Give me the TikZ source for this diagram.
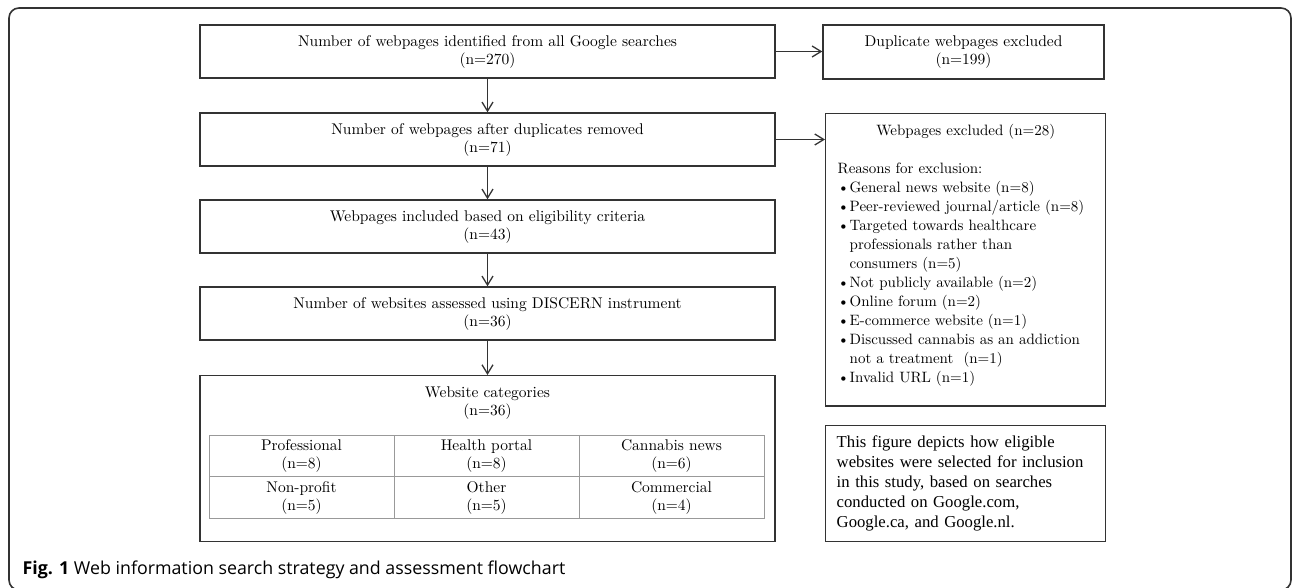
\documentclass[tikz,border=0pt]{standalone}
\usepackage{fontspec}
\usepackage{tikz}
\usetikzlibrary{arrows.meta}

\setmainfont{lmroman10-regular.otf}[BoldFont=lmroman10-bold.otf]
\newfontfamily\notefont{Liberation Serif}
\newfontfamily\capfont{Open Sans}
\definecolor{ink}{HTML}{333333}
\newcommand{\bul}{\makebox[12pt][l]{\textbullet}}
\newcommand{\ind}{\hspace*{12pt}}

\begin{document}
\begin{tikzpicture}
        [x=1pt,y=-1pt,line width=1.3pt,draw=ink,>={Straight Barb[length=9pt,width=11pt]},
         box/.style={rectangle,draw=ink,line width=1.4pt,minimum width=575pt,minimum height=53pt,
                     text width=560pt,align=center,inner sep=0pt,font=\fontsize{15.5}{18}\selectfont},
         side/.style={rectangle,draw=ink,line width=1.4pt,anchor=north west,align=left,
                      font=\fontsize{15}{19}\selectfont},
         cell/.style={rectangle,draw=gray!80,line width=0.9pt,minimum width=185pt,minimum height=41.5pt,
                      text width=180pt,align=center,inner sep=0pt,outer sep=0pt,font=\fontsize{15.5}{18}\selectfont}]
        \useasboundingbox (0,0) rectangle (1292,588);
        \draw[ink,line width=1.6pt,rounded corners=10pt] (9,8) rectangle (1291,590);

        \node[box] (1) at (487.5,51.5) {\strut Number of webpages identified from all Google searches\\(n=270)\strut};
        \node[box] (2) at (487.5,139.5) {\strut Number of webpages after duplicates removed\\(n=71)\strut};
        \node[box] (3) at (487.5,226.5) {\strut Webpages included based on eligibility criteria\\(n=43)\strut};
        \node[box] (4) at (487.5,313.5) {\strut Number of websites assessed using DISCERN instrument\\(n=36)\strut};
        \node[box,anchor=north,inner ysep=9pt,text depth=135pt] (5) at (487.5,375) {\strut Website categories\\(n=36)};

        \node[cell] (5a) at (301.5,456) {\strut Professional\\(n=8)\strut};
        \node[cell] (5b) at (486.5,456) {\strut Health portal\\(n=8)\strut};
        \node[cell] (5c) at (671.5,456) {\strut Cannabis news\\(n=6)\strut};
        \node[cell] (5d) at (301.5,497.5) {\strut Non-profit\\(n=5)\strut};
        \node[cell] (5e) at (486.5,497.5) {\strut Other\\(n=5)\strut};
        \node[cell] (5f) at (671.5,497.5) {\strut Commercial\\(n=4)\strut};

        \node[box,minimum width=281pt,minimum height=54pt,text width=270pt] (6) at (963.5,52) {\strut Duplicate webpages excluded\\(n=199)\strut};
        \node[side,text width=256pt,inner xsep=12pt,inner ysep=9pt,text depth=261pt] (7) at (825,113) {%
          \centerline{\strut Webpages excluded (n=28)}\vspace{19pt}
          Reasons for exclusion:\\
          \bul General news website (n=8)\\
          \bul Peer-reviewed journal/article (n=8)\\
          \bul Targeted towards healthcare\\
          \ind professionals rather than\\
          \ind consumers (n=5)\\
          \bul Not publicly available (n=2)\\
          \bul Online forum (n=2)\\
          \bul E-commerce website (n=1)\\
          \bul Discussed cannabis as an addiction\\
          \ind not a treatment\ \ (n=1)\\
          \bul Invalid URL (n=1)};
        \node[side,minimum width=280pt,minimum height=116pt,text width=258pt,inner xsep=11pt,
              font=\notefont\fontsize{16.7}{20}\selectfont] (8) at (825,425) {%
          This figure depicts how eligible\\
          websites were selected for inclusion\\
          in this study, based on searches\\
          conducted on Google.com,\\
          Google.ca, and Google.nl.};

        \node[anchor=base west,inner sep=0pt,font=\capfont\fontsize{17.8}{20}\selectfont] (cap) at (22,574)
          {\textbf{Fig. 1} Web information search strategy and assessment flowchart};

        \path [->] (1) edge (2);
        \path [->] (2) edge (3);
        \path [->] (3) edge (4);
        \path [->] (4) edge (5);

        \path [->] (1.east) edge (1.east -| 6.west);
        \path [->] (2.east) edge (2.east -| 7.west);
    \end{tikzpicture}
\end{document}
